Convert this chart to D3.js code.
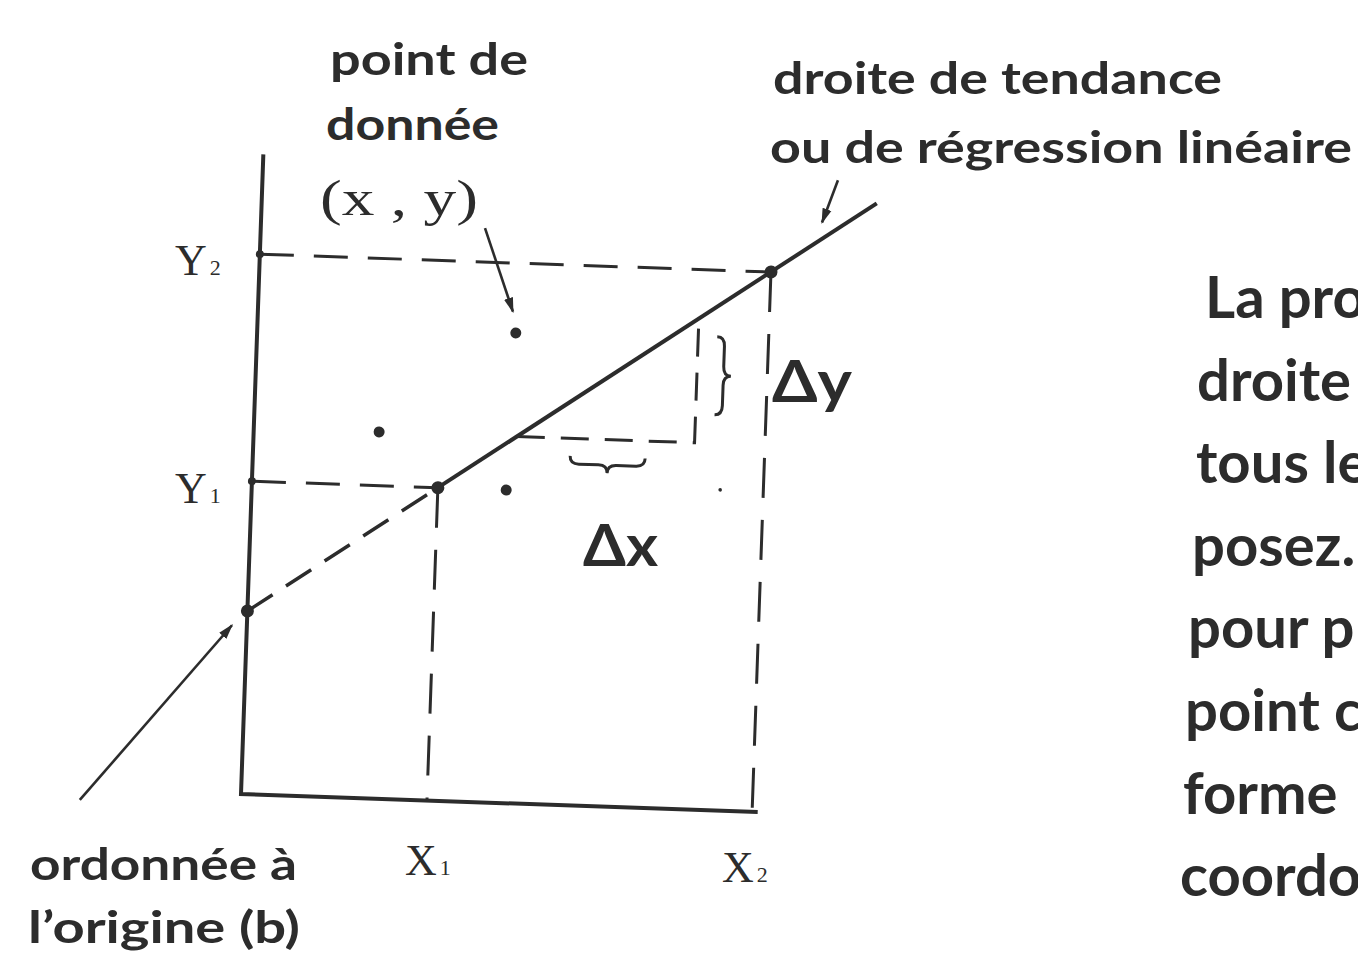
<!DOCTYPE html>
<html>
<head>
<meta charset="utf-8">
<script src="https://cdn.jsdelivr.net/npm/d3@7"></script>
<style>
  html, body { margin: 0; padding: 0; background: #fff; overflow: hidden; }
  svg { display: block; }
</style>
</head>
<body>
<script>
// values (arbitrary 0-100 units on both axes)
var xDomain = [0, 100],
    yDomain = [0, 100];

var intercept = 28.6,
    slope = 0.561,
    lineEndX = 119.6;

var keyX = [36.2, 99.5],       // x1, x2
    keyY = [48.9, 84.4];       // y1, y2

var pointsX = [24.4, 50.3, 49.5, 91.1],
    pointsY = [57.3, 73.5, 48.9, 50.1],
    pointsR = [5.5, 5.5, 5.5, 1.8];

var deltaX = [51.2, 85.8];     // small slope triangle

var axisLabels = ["Y", "Y", "X", "X"],
    axisSubs = ["2", "1", "1", "2"];

var rightText = ["La pro", "droite", "tous le", "posez.", "pour p", "point c", "forme", "coordo"];

var W = 1358, H = 954,
    ink = "#2c2c2c",
    sans = "Lato, 'Open Sans', sans-serif",
    serif = "'Liberation Serif', 'DejaVu Serif', serif";

var svg = d3.select("body").append("svg")
  .attr("width", W)
  .attr("height", H);

var defs = svg.append("defs");
defs.append("marker")
  .attr("id", "head")
  .attr("viewBox", "0 0 10 10")
  .attr("refX", 9)
  .attr("refY", 5)
  .attr("markerWidth", 6)
  .attr("markerHeight", 6)
  .attr("markerUnits", "strokeWidth")
  .attr("orient", "auto")
  .append("path")
  .attr("d", "M0,2 L10,5 L0,8 Z")
  .attr("fill", ink);

var x = d3.scaleLinear().domain(xDomain).range([0, 514]);
var y = d3.scaleLinear().domain(yDomain).range([0, -640]);

// the printed figure sits a little askew
var g = svg.append("g")
  .attr("transform", "translate(241,794) rotate(2)");

function lineY(v) { return intercept + slope * v; }

var dash = "34,20";

// axes
g.append("path")
  .attr("d", d3.line()([[x(0), y(yDomain[1])], [x(0), y(0)], [x(xDomain[1]) + 3, y(0)]]))
  .attr("fill", "none")
  .attr("stroke", ink)
  .attr("stroke-width", 4)
  .attr("stroke-linejoin", "miter");

// dashed guides to x1/y1 and x2/y2
keyX.forEach(function(kx, i) {
  g.append("line")
    .attr("x1", x(0)).attr("y1", y(keyY[i]))
    .attr("x2", x(kx)).attr("y2", y(keyY[i]))
    .attr("stroke", ink).attr("stroke-width", 3)
    .attr("stroke-dasharray", dash);
  g.append("line")
    .attr("x1", x(kx)).attr("y1", y(keyY[i]))
    .attr("x2", x(kx)).attr("y2", y(0))
    .attr("stroke", ink).attr("stroke-width", 3)
    .attr("stroke-dasharray", "40,22");
});

// regression line: dashed up to x1, solid after
g.append("line")
  .attr("x1", x(0)).attr("y1", y(intercept))
  .attr("x2", x(keyX[0])).attr("y2", y(lineY(keyX[0])))
  .attr("stroke", ink).attr("stroke-width", 3.5)
  .attr("stroke-dasharray", "30,16");
g.append("line")
  .attr("x1", x(keyX[0])).attr("y1", y(lineY(keyX[0])))
  .attr("x2", x(lineEndX)).attr("y2", y(lineY(lineEndX)))
  .attr("stroke", ink).attr("stroke-width", 4);

// slope triangle
g.append("path")
  .attr("d", d3.line()([
    [x(deltaX[0]), y(lineY(deltaX[0]))],
    [x(deltaX[1]), y(lineY(deltaX[0]))],
    [x(deltaX[1]), y(lineY(deltaX[1]))]
  ]))
  .attr("fill", "none")
  .attr("stroke", ink).attr("stroke-width", 3)
  .attr("stroke-dasharray", "28,16");

// key points
var keyPts = [[0, intercept], [keyX[0], keyY[0]], [keyX[1], keyY[1]], [0, keyY[0]], [0, keyY[1]]];
g.selectAll("circle.key").data(keyPts).enter().append("circle")
  .attr("class", "key")
  .attr("cx", function(d) { return x(d[0]); })
  .attr("cy", function(d) { return y(d[1]); })
  .attr("r", function(d, i) { return i < 3 ? 6.5 : 4; })
  .attr("fill", ink);

// data points
g.selectAll("circle.pt").data(pointsX).enter().append("circle")
  .attr("class", "pt")
  .attr("cx", function(d) { return x(d); })
  .attr("cy", function(d, i) { return y(pointsY[i]); })
  .attr("r", function(d, i) { return pointsR[i]; })
  .attr("fill", ink);

// braces
function brace(x0, y0, x1, y1, w) {
  // curly brace from (x0,y0) to (x1,y1); the point sits on the left-hand normal
  var dx = x1 - x0, dy = y1 - y0, len = Math.sqrt(dx * dx + dy * dy);
  var ux = dx / len, uy = dy / len, nx = -uy, ny = ux;
  function p(a, b) { return [x0 + ux * a + nx * b, y0 + uy * a + ny * b]; }
  var q = len * 0.12, m = len / 2;
  var path = d3.path();
  var s = p(0, 0); path.moveTo(s[0], s[1]);
  var c = p(0, w / 2), e = p(q, w / 2); path.quadraticCurveTo(c[0], c[1], e[0], e[1]);
  e = p(m - q, w / 2); path.lineTo(e[0], e[1]);
  c = p(m, w / 2); e = p(m, w); path.quadraticCurveTo(c[0], c[1], e[0], e[1]);
  c = p(m, w / 2); e = p(m + q, w / 2); path.quadraticCurveTo(c[0], c[1], e[0], e[1]);
  e = p(len - q, w / 2); path.lineTo(e[0], e[1]);
  c = p(len, w / 2); e = p(len, 0); path.quadraticCurveTo(c[0], c[1], e[0], e[1]);
  return path.toString();
}

// Δy brace, drawn bottom to top so it points right
g.append("path")
  .attr("d", brace(x(89.5), y(61.8), x(89.5), y(74), 15))
  .attr("fill", "none").attr("stroke", ink).attr("stroke-width", 3);
// Δx brace, left to right so it points down
g.append("path")
  .attr("d", brace(x(61.7), y(54.6), x(76.3), y(54.6), 16))
  .attr("fill", "none").attr("stroke", ink).attr("stroke-width", 3);

// annotation arrows
var arrows = [
  [[43.6, 89.7], [49.6, 76.8]],
  [[-31.3, -1.8], [-2.9, 26.3]],
  [[111.9, 99.1], [109.1, 92.4]]
];
g.selectAll("line.arrow").data(arrows).enter().append("line")
  .attr("class", "arrow")
  .attr("x1", function(d) { return x(d[0][0]); })
  .attr("y1", function(d) { return y(d[0][1]); })
  .attr("x2", function(d) { return x(d[1][0]); })
  .attr("y2", function(d) { return y(d[1][1]); })
  .attr("stroke", ink)
  .attr("stroke-width", 2.6)
  .attr("marker-end", "url(#head)");

// text
function label(txt, tx, ty, size, len, family) {
  var t = svg.append("text")
    .attr("x", tx).attr("y", ty)
    .attr("font-family", family || sans)
    .attr("font-weight", family ? 400 : 700)
    .attr("font-size", size)
    .attr("fill", ink)
    .text(txt);
  if (len) t.attr("textLength", len).attr("lengthAdjust", "spacingAndGlyphs");
  return t;
}

label("point de", 330, 75, 44, 198);
label("donnée", 326, 140, 44, 173);
label("(x , y)", 320, 215, 50, 158, serif);
label("droite de tendance", 773, 94, 44, 449);
label("ou de régression linéaire", 770, 163, 44, 582);
label("ordonnée à", 30, 880, 44, 267);
label("l\u2019origine (b)", 28, 943, 44, 272);
label("\u0394y", 772, 402, 58, 80);
label("\u0394x", 583, 566, 58, 75);

var axisPos = [[175, 275], [175, 503], [405, 875], [722, 882]];
axisLabels.forEach(function(s, i) {
  var t = svg.append("text")
    .attr("x", axisPos[i][0]).attr("y", axisPos[i][1])
    .attr("font-family", serif)
    .attr("font-size", 44)
    .attr("fill", ink);
  t.append("tspan").text(s);
  t.append("tspan").attr("font-size", 22).attr("dx", 3).text(axisSubs[i]);
});

// body text of the page, cut by the right edge as in the scan
var rightX = [1205, 1197, 1196, 1192, 1188, 1185, 1183, 1180];
svg.selectAll("text.body").data(rightText).enter().append("text")
  .attr("class", "body")
  .attr("x", function(d, i) { return rightX[i]; })
  .attr("y", function(d, i) { return 318 + i * 82.6; })
  .attr("font-family", sans)
  .attr("font-weight", 700)
  .attr("font-size", 58)
  .attr("fill", ink)
  .text(function(d) { return d; });
</script>
</body>
</html>
